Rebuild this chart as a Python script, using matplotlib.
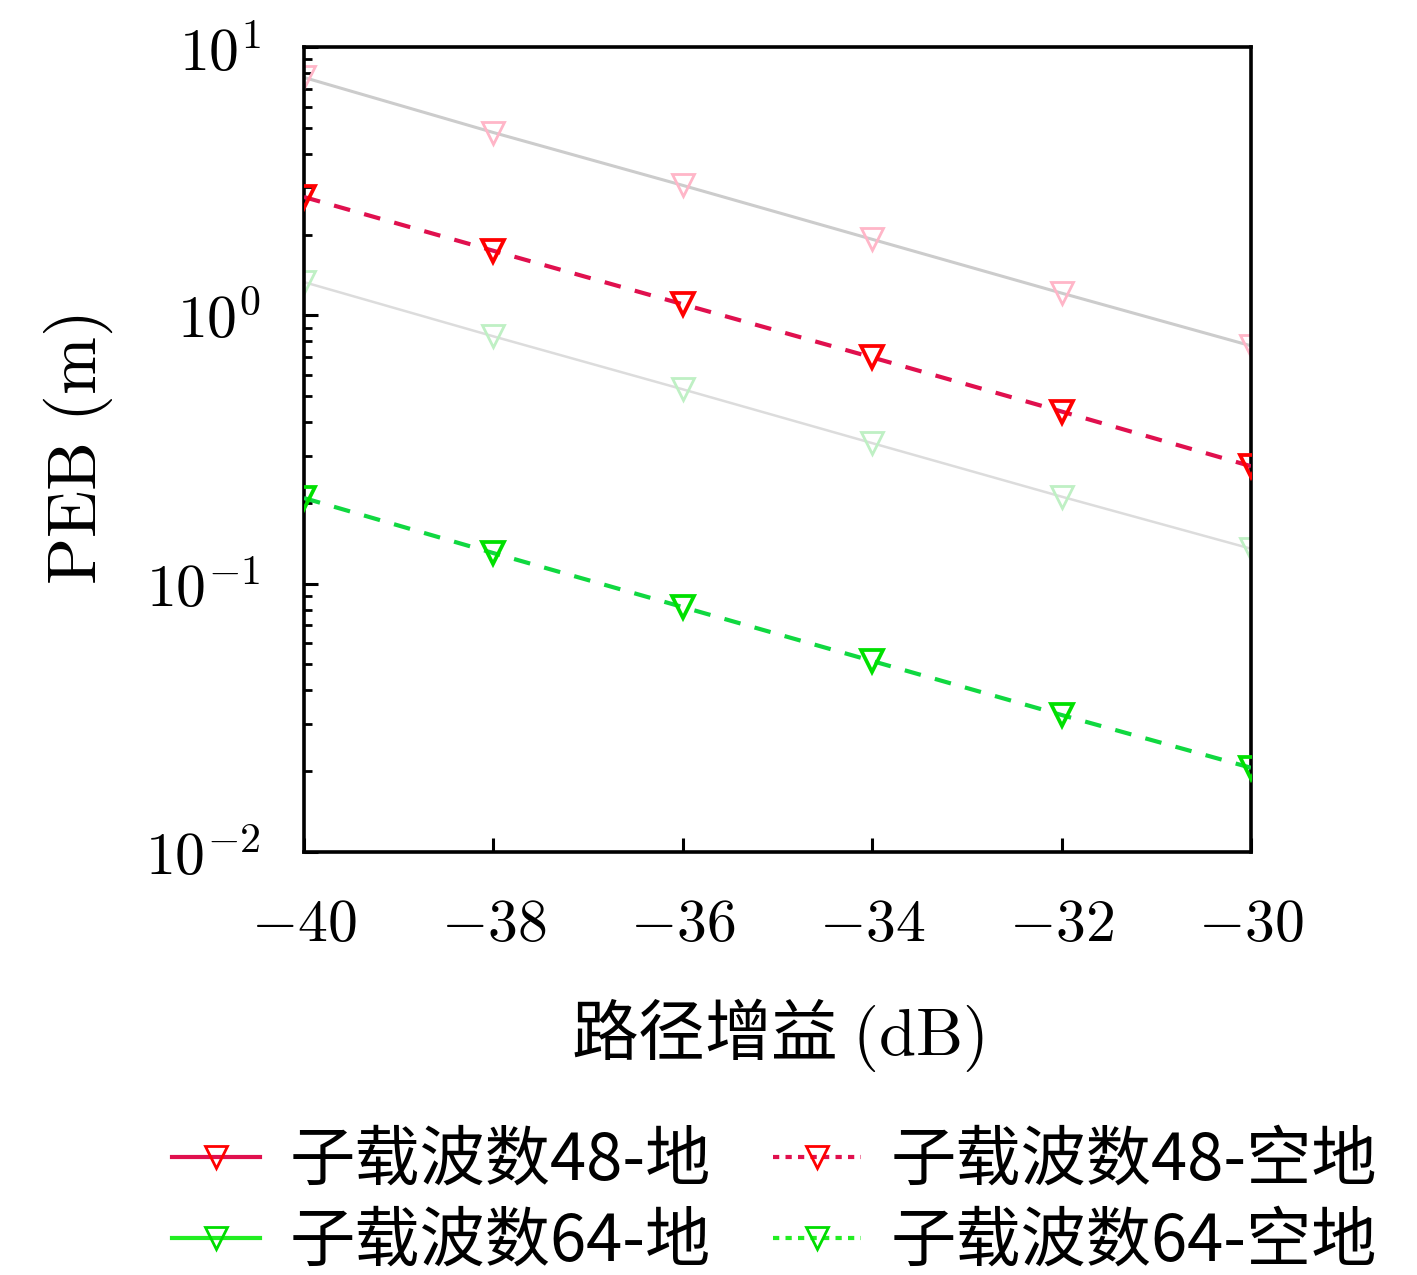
import matplotlib
matplotlib.use("Agg")
import matplotlib.pyplot as plt
from matplotlib.lines import Line2D
from matplotlib.ticker import FuncFormatter, LogLocator, FixedLocator
import numpy as np

plt.rcParams['mathtext.fontset'] = 'cm'
plt.rcParams['font.family'] = ['Noto Sans CJK SC', 'DejaVu Sans']

gain_db = [-40, -38, -36, -34, -32, -30]
peb_48_ground = [7.7, 4.8, 3.05, 1.92, 1.21, 0.77]
peb_48_airground = [2.76, 1.74, 1.10, 0.697, 0.438, 0.274]
peb_64_ground = [1.33, 0.835, 0.53, 0.334, 0.211, 0.135]
peb_64_airground = [0.2085, 0.130, 0.0818, 0.0515, 0.0324, 0.0206]

labels = ['子载波数48-地', '子载波数48-空地', '子载波数64-地', '子载波数64-空地']
xticks = [-40, -38, -36, -34, -32, -30]

fig = plt.figure(figsize=(14.17, 12.75), dpi=100)
ax = fig.add_axes([304/1417, 1 - 852/1275, (1251-304)/1417, (852-47)/1275])

ms = 16
mew = 2
# ground (faded) series
ax.plot(gain_db, peb_48_ground, color='#cccccc', lw=2.2, marker='v', ms=ms,
        mfc='none', mec='#ffb6c8', mew=mew, zorder=2)
ax.plot(gain_db, peb_64_ground, color='#dcdcdc', lw=1.8, marker='v', ms=ms,
        mfc='none', mec='#bff0c4', mew=mew, zorder=2)
# air-ground dashed series
ax.plot(gain_db, peb_48_airground, color='#e0104e', lw=3, ls=(0, (4, 3.5)), marker='v', ms=ms,
        mfc='none', mec='#ff0000', mew=mew + 0.7, zorder=3)
ax.plot(gain_db, peb_64_airground, color='#10d840', lw=3, ls=(0, (4, 3.5)), marker='v', ms=ms,
        mfc='none', mec='#00e000', mew=mew + 0.7, zorder=3)

ax.set_yscale('log')
ax.set_xlim(-40, -30)
ax.set_ylim(1e-2, 1e1)
ax.xaxis.set_major_locator(FixedLocator(xticks))
ax.xaxis.set_major_formatter(FuncFormatter(lambda v, p: r'$%d$' % v))
ax.yaxis.set_major_locator(LogLocator(base=10, numticks=10))
ax.yaxis.set_major_formatter(FuncFormatter(lambda v, p: r'$10^{%d}$' % int(round(np.log10(v)))))
ax.yaxis.set_minor_locator(LogLocator(base=10, subs=np.arange(2, 10), numticks=20))

ax.tick_params(axis='both', which='both', direction='in', top=False, right=False, colors='black')
ax.tick_params(axis='x', which='major', length=10, width=2.2, labelsize=43, pad=30)
ax.tick_params(axis='y', which='major', length=10, width=2.2, labelsize=43, pad=31)
ax.tick_params(axis='y', which='minor', length=6, width=2)
for s in ax.spines.values():
    s.set_linewidth(2.6)
    s.set_color('black')

ax.set_xlabel(r'路径增益 $(\mathrm{dB})$', fontsize=48, labelpad=30)
ax.set_ylabel(r'$\mathrm{PEB\ (m)}$', fontsize=50, labelpad=22)

h48 = Line2D([], [], color='#e0104e', lw=3, marker='v', ms=ms, mfc='none', mec='#ff0000', mew=mew)
h48a = Line2D([], [], color='#e0104e', lw=3, ls=(0, (1.5, 1.5)), marker='v', ms=ms, mfc='none', mec='#ff0000', mew=mew)
h64 = Line2D([], [], color='#22ee22', lw=3, marker='v', ms=ms, mfc='none', mec='#00dd00', mew=mew)
h64a = Line2D([], [], color='#22ee22', lw=3, ls=(0, (1.5, 1.5)), marker='v', ms=ms, mfc='none', mec='#00dd00', mew=mew)
# column-major order so rows read: 48-地, 48-空地 / 64-地, 64-空地
fig.legend([h48, h64, h48a, h64a], [labels[0], labels[2], labels[1], labels[3]],
           loc='upper left', bbox_to_anchor=(172/1417, 1 - 1128/1275),
           ncol=2, frameon=False, fontsize=47, handlelength=1.35, columnspacing=0.95,
           handletextpad=0.45, labelspacing=0.22, borderpad=0, borderaxespad=0)

fig.savefig('out.png', dpi=100)
